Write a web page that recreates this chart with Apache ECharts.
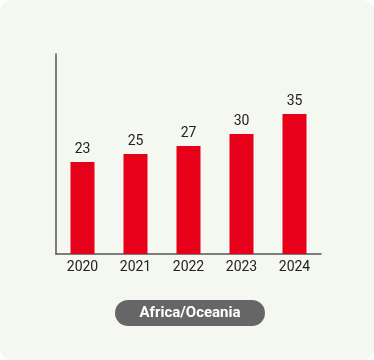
<!DOCTYPE html>
<html><head><meta charset="utf-8">
<script src="https://cdn.jsdelivr.net/npm/echarts@6/dist/echarts.min.js"></script>
<style>html,body{margin:0;padding:0;background:#fff}#c{width:374px;height:360px;background:#f5f7f1;border-radius:12px;overflow:hidden}</style>
</head><body><div id="c"></div>
<script>
const categories = ['2020','2021','2022','2023','2024'];
const values = [23, 25, 27, 30, 35];
const regionLabel = 'Africa/Oceania';
const chart = echarts.init(document.getElementById('c'), null, {renderer:'canvas'});
chart.setOption({
  animation:false,
  textStyle:{fontFamily:'Roboto'},
  grid:{left:56,top:54,width:265,height:200,containLabel:false},
  xAxis:{type:'category',data:categories,
    axisLine:{lineStyle:{color:'#555',width:1.5}},axisTick:{show:false},
    axisLabel:{color:'#222',fontSize:14,margin:6}},
  yAxis:{type:'value',min:0,max:50,
    axisLine:{show:true,lineStyle:{color:'#555',width:1.5}},axisTick:{show:false},
    axisLabel:{show:false},splitLine:{show:false}},
  series:[{type:'bar',data:values,barWidth:24,
    itemStyle:{color:'#e60019'},
    label:{show:true,position:'top',color:'#222',fontSize:14,distance:6}}],
  graphic:[{type:'group',left:115,top:300,children:[
    {type:'rect',shape:{x:0,y:0,width:150,height:26,r:13},style:{fill:'#666'}},
    {type:'text',x:75,y:13,style:{text:regionLabel,fill:'#fff',font:'bold 15px Roboto',align:'center',verticalAlign:'middle'}}
  ]}]
});
</script></body></html>
